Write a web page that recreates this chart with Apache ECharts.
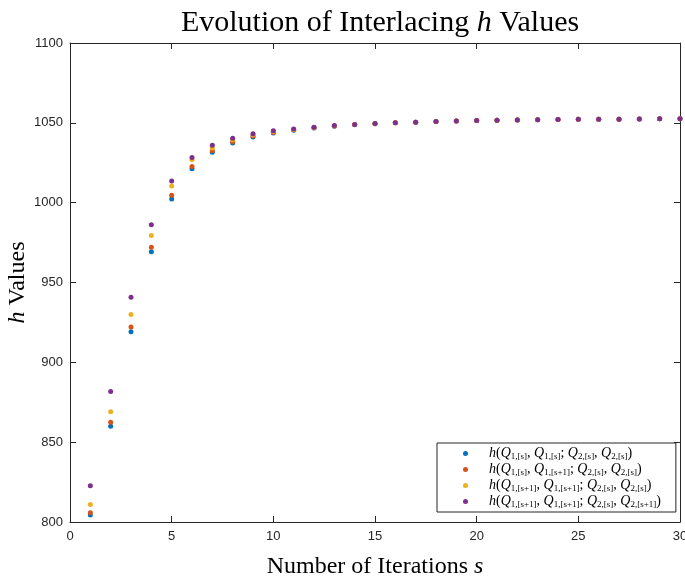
<!DOCTYPE html>
<html>
<head>
<meta charset="utf-8">
<script src="https://cdn.jsdelivr.net/npm/echarts@6/dist/echarts.min.js"></script>
<style>
  html, body { margin: 0; padding: 0; background: #fff; }
  #chart { width: 685px; height: 579px; }
</style>
</head>
<body>
<div id="chart"></div>
<script>
// iterations s = 1..30
const iterations = [1, 2, 3, 4, 5, 6, 7, 8, 9, 10, 11, 12, 13, 14, 15,
    16, 17, 18, 19, 20, 21, 22, 23, 24, 25, 26, 27, 28, 29, 30];

// h(Q1[s],Q1[s];Q2[s],Q2[s])
const hSS = [804.4, 859.9, 919.2, 969.3, 1002.3, 1021.3, 1031.5, 1037.3, 1041.2, 1043.6,
    1045.3, 1046.7, 1047.9, 1048.8, 1049.5, 1050.0, 1050.4, 1050.8, 1051.2, 1051.5,
    1051.6, 1051.8, 1051.9, 1052.1, 1052.2, 1052.3, 1052.3, 1052.4, 1052.5, 1052.5];
// h(Q1[s],Q1[s+1];Q2[s],Q2[s])
const hS1 = [805.8, 862.4, 922.1, 972.0, 1004.6, 1022.7, 1032.5, 1038.1, 1041.7, 1044.0,
    1045.6, 1046.9, 1048.0, 1048.9, 1049.5, 1050.0, 1050.4, 1050.8, 1051.2, 1051.5,
    1051.6, 1051.8, 1051.9, 1052.1, 1052.2, 1052.3, 1052.3, 1052.4, 1052.5, 1052.5];
// h(Q1[s+1],Q1[s+1];Q2[s],Q2[s])
const hS2 = [811.0, 869.1, 930.0, 979.5, 1010.4, 1026.9, 1034.2, 1039.4, 1042.5, 1044.5,
    1045.9, 1047.1, 1048.1, 1048.9, 1049.6, 1050.0, 1050.4, 1050.8, 1051.2, 1051.5,
    1051.6, 1051.8, 1051.9, 1052.1, 1052.2, 1052.3, 1052.3, 1052.4, 1052.5, 1052.5];
// h(Q1[s+1],Q1[s+1];Q2[s],Q2[s+1])
const hS3 = [822.7, 881.8, 940.7, 986.2, 1013.5, 1028.3, 1036.0, 1040.4, 1043.1, 1045.0,
    1046.2, 1047.3, 1048.3, 1049.0, 1049.6, 1050.0, 1050.4, 1050.8, 1051.2, 1051.5,
    1051.6, 1051.8, 1051.9, 1052.1, 1052.2, 1052.3, 1052.3, 1052.4, 1052.5, 1052.5];

const seriesNames = ['ss', 's1', 's2', 's3'];
const legendLabels = {
    ss: '{i|h}({i|Q}{sub|1,[s]}, {i|Q}{sub|1,[s]}; {i|Q}{sub|2,[s]}, {i|Q}{sub|2,[s]})',
    s1: '{i|h}({i|Q}{sub|1,[s]}, {i|Q}{sub|1,[s+1]}; {i|Q}{sub|2,[s]}, {i|Q}{sub|2,[s]})',
    s2: '{i|h}({i|Q}{sub|1,[s+1]}, {i|Q}{sub|1,[s+1]}; {i|Q}{sub|2,[s]}, {i|Q}{sub|2,[s]})',
    s3: '{i|h}({i|Q}{sub|1,[s+1]}, {i|Q}{sub|1,[s+1]}; {i|Q}{sub|2,[s]}, {i|Q}{sub|2,[s+1]})',
};
const colors = ['#0072BD', '#D95319', '#EDB120', '#7E2F8E'];

const AX = '#262626';
const SERIF = '"Liberation Serif", "DejaVu Serif", serif';
const SANS = '"Liberation Sans", Arial, sans-serif';

const pairs = ys => iterations.map((x, i) => [x, ys[i]]);

const chart = echarts.init(document.getElementById('chart'), null, { renderer: 'canvas' });

const tickStyle = { inside: true, length: 6, lineStyle: { color: AX, width: 1 } };
const plainLabel = v => String(v);

chart.setOption({
    animation: false,
    color: colors,
    title: {
        text: 'Evolution of Interlacing {i|h} Values',
        left: 375,
        textAlign: 'center',
        top: 3,
        textStyle: {
            fontFamily: SERIF, fontSize: 30, fontWeight: 'normal', color: '#000',
            rich: { i: { fontFamily: SERIF, fontSize: 30, fontStyle: 'italic', color: '#000' } },
        },
    },
    grid: { left: 70, right: 5, top: 43, bottom: 57, containLabel: false, outerBoundsMode: 'none' },
    legend: {
        orient: 'vertical',
        left: 437, top: 443,
        data: seriesNames,
        icon: 'circle',
        itemWidth: 5, itemHeight: 5,
        itemGap: 1,
        padding: [3, 15, 3, 26],
        backgroundColor: '#fff',
        borderColor: AX, borderWidth: 1, borderRadius: 0,
        formatter: name => legendLabels[name],
        textStyle: {
            fontFamily: SERIF, fontSize: 14, color: '#000', lineHeight: 15,
            padding: [0, 0, 0, 16],
            rich: {
                i: { fontFamily: SERIF, fontSize: 14, fontStyle: 'italic', color: '#000', lineHeight: 15 },
                sub: { fontFamily: SERIF, fontSize: 9, color: '#000', verticalAlign: 'bottom', lineHeight: 15 },
            },
        },
    },
    xAxis: [{
        type: 'value', min: 0, max: 30, interval: 5,
        name: 'Number of Iterations {i|s}',
        nameLocation: 'middle', nameGap: 33, nameMoveOverlap: false,
        nameTextStyle: {
            fontFamily: SERIF, fontSize: 24, color: '#000',
            rich: { i: { fontFamily: SERIF, fontSize: 24, fontStyle: 'italic', color: '#000' } },
        },
        axisLine: { show: true, onZero: false, lineStyle: { color: AX, width: 1 } },
        axisTick: tickStyle,
        axisLabel: { fontFamily: SANS, fontSize: 13, color: AX, margin: 8, formatter: plainLabel },
        splitLine: { show: false },
    }, {
        type: 'value', position: 'top', min: 0, max: 30, interval: 5,
        axisLine: { show: true, onZero: false, lineStyle: { color: AX, width: 1 } },
        axisTick: tickStyle,
        axisLabel: { show: false },
        splitLine: { show: false },
    }],
    yAxis: [{
        type: 'value', min: 800, max: 1100, interval: 50,
        name: '{i|h} Values',
        nameLocation: 'middle', nameGap: 40, nameRotate: 90, nameMoveOverlap: false,
        nameTextStyle: {
            fontFamily: SERIF, fontSize: 24, color: '#000',
            rich: { i: { fontFamily: SERIF, fontSize: 24, fontStyle: 'italic', color: '#000' } },
        },
        axisLine: { show: true, onZero: false, lineStyle: { color: AX, width: 1 } },
        axisTick: tickStyle,
        axisLabel: { fontFamily: SANS, fontSize: 13, color: AX, margin: 7, formatter: plainLabel },
        splitLine: { show: false },
    }, {
        type: 'value', position: 'right', min: 800, max: 1100, interval: 50,
        axisLine: { show: true, onZero: false, lineStyle: { color: AX, width: 1 } },
        axisTick: tickStyle,
        axisLabel: { show: false },
        splitLine: { show: false },
    }],
    series: [hSS, hS1, hS2, hS3].map((ys, k) => ({
        name: seriesNames[k],
        type: 'scatter',
        symbol: 'circle',
        symbolSize: 5,
        clip: false,
        data: pairs(ys),
        itemStyle: { color: colors[k], opacity: 1 },
        z: 2 + k,
    })),
});
</script>
</body>
</html>
